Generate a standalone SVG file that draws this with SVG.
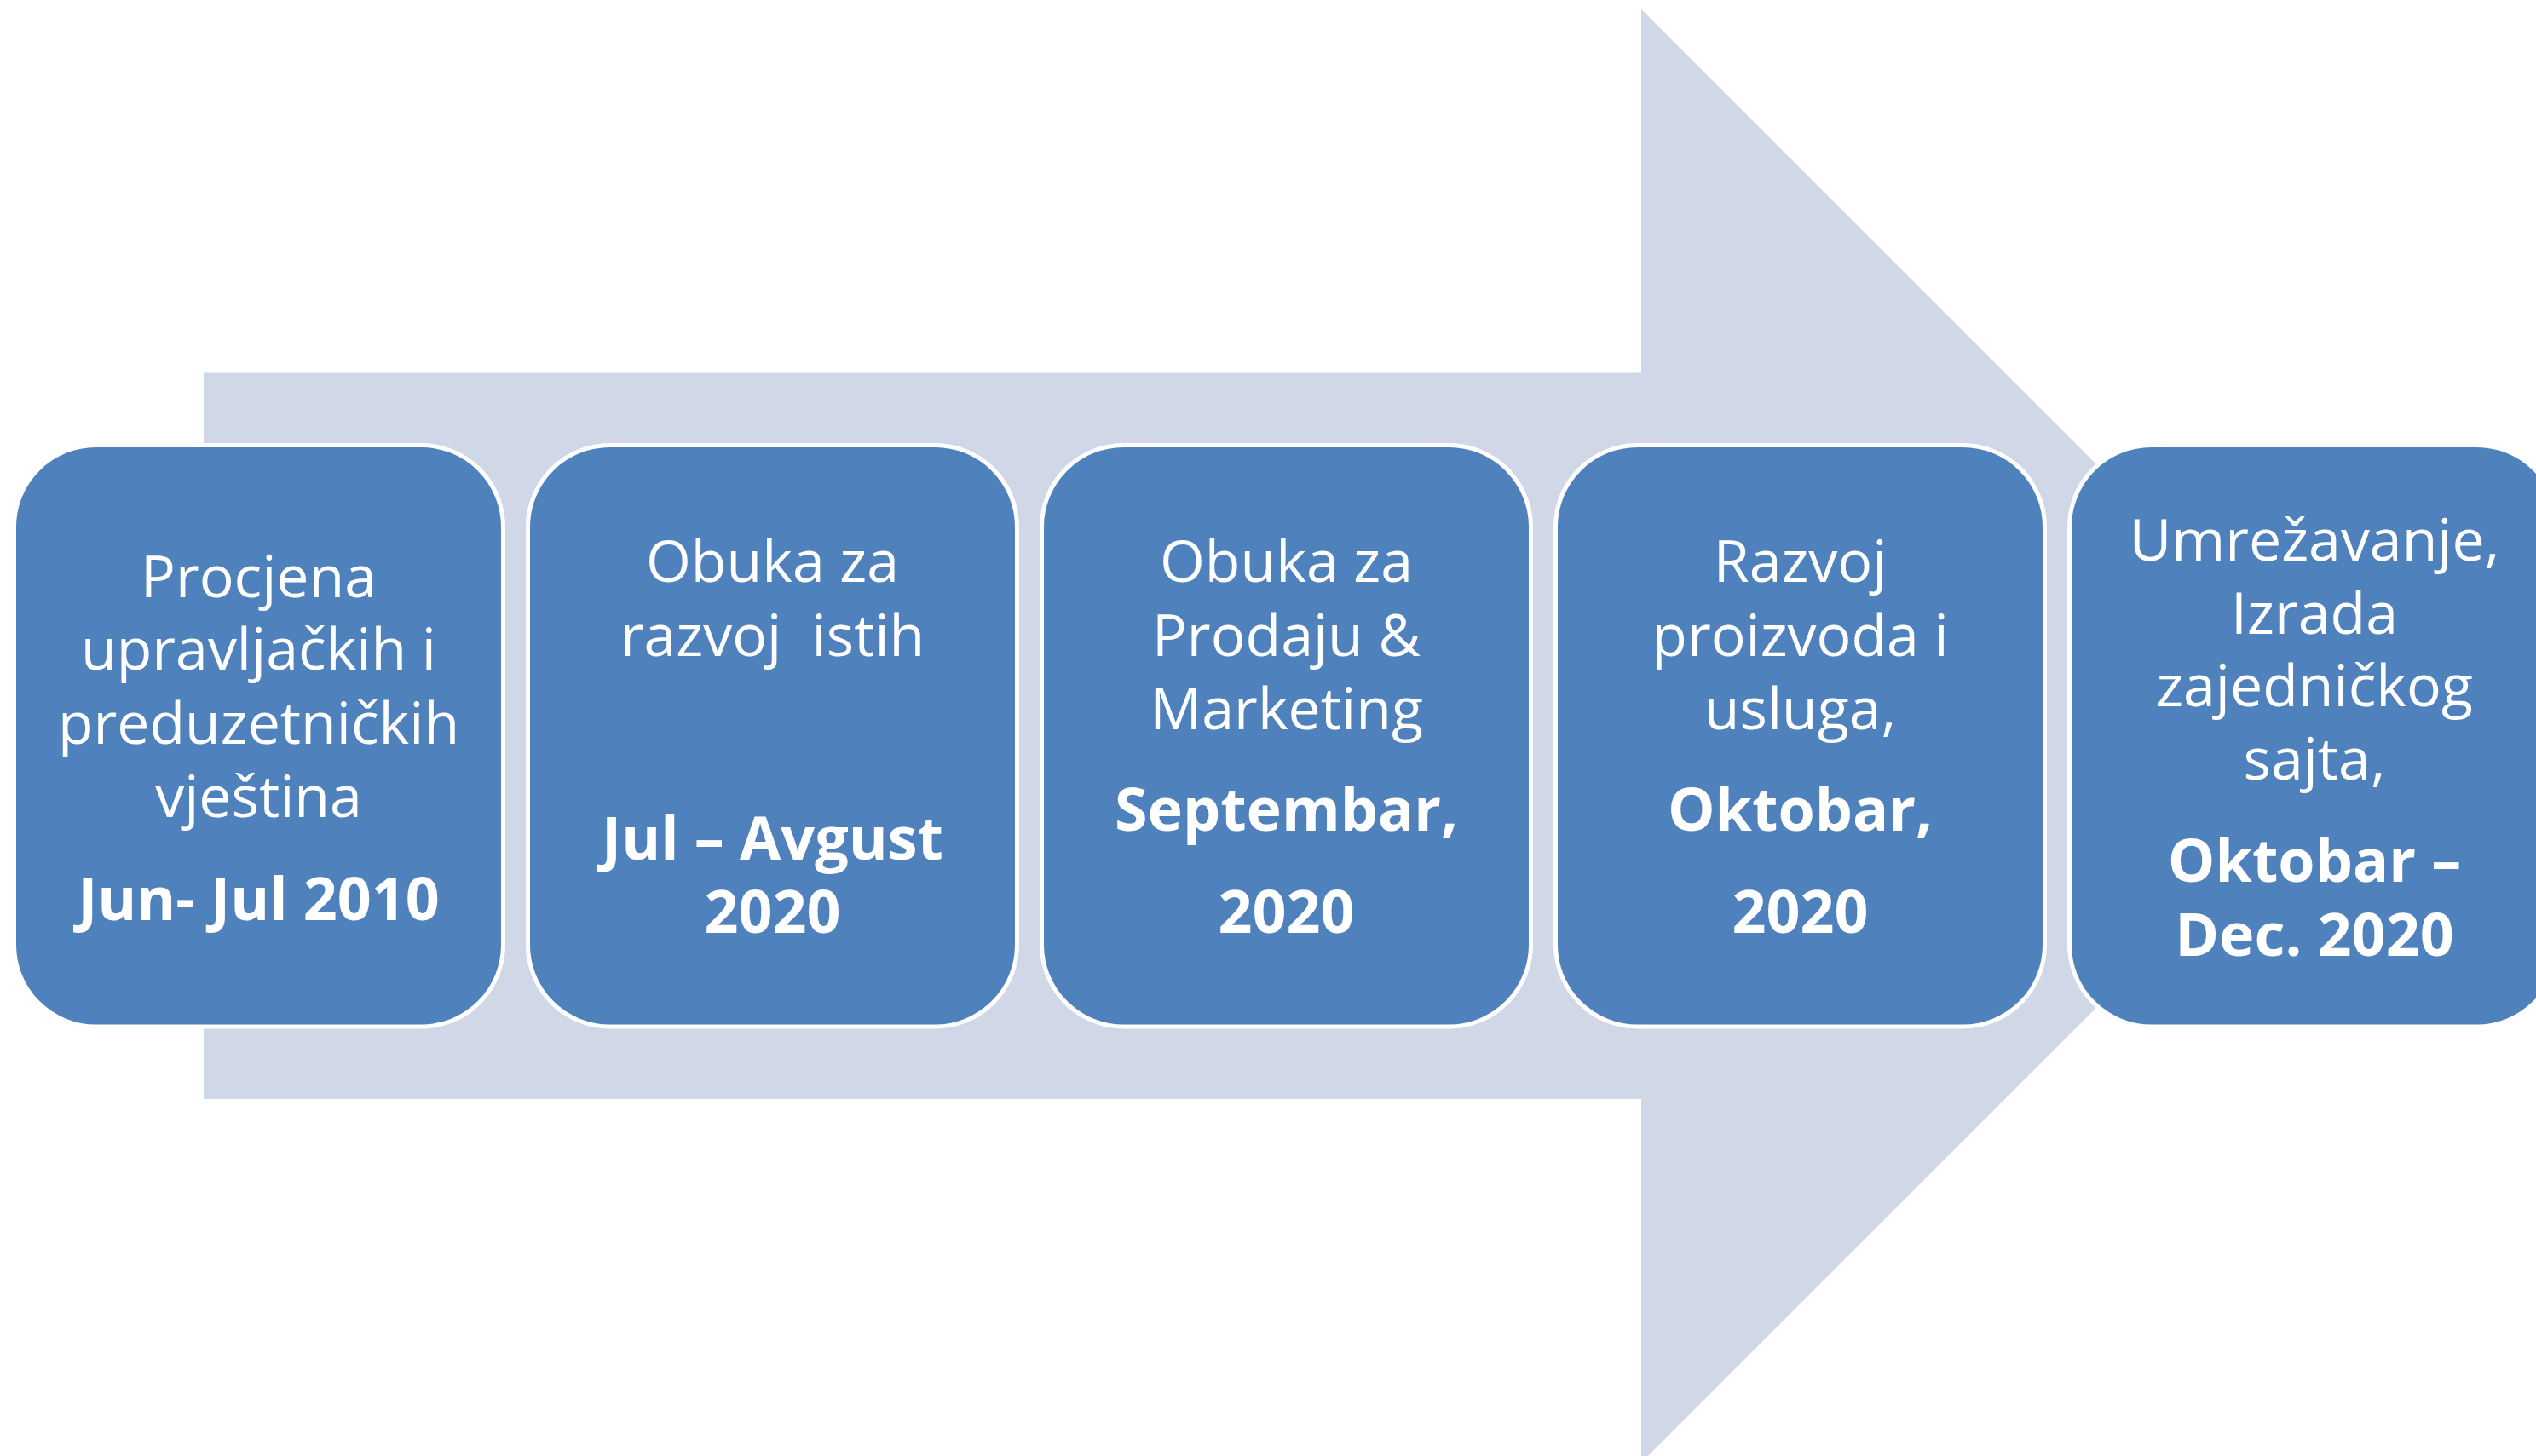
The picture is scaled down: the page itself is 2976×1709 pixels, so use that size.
<svg xmlns="http://www.w3.org/2000/svg" width="2976" height="1709" viewBox="0 0 2976 1709">
<style>
.box{fill:#4F81BD;stroke:#FFFFFF;stroke-width:5}
.t{font-family:"Open Sans","Noto Sans","Liberation Sans",sans-serif;font-size:68px;fill:#FFFFFF;text-anchor:middle}
.b{font-family:"Open Sans","Noto Sans","Liberation Sans",sans-serif;font-size:70px;font-weight:bold;fill:#FFFFFF;text-anchor:middle}
</style>
<rect width="2976" height="1709" fill="#FFFFFF"/>
<g id="arrow">
<polygon points="239,437.5 1926,437.5 1926,10.7 2779,863.75 1926,1716.8 1926,1290 239,1290" fill="#D0D8E8"/>
</g>
<g id="connectors"></g>
<g id="node1">
<rect class="box" x="16.5" y="522.5" width="574" height="682.5" rx="96" ry="96"/>
<text class="t" x="303.5" y="700.5">Procjena</text>
<text class="t" x="303.5" y="786">upravljačkih i</text>
<text class="t" x="303.5" y="873">preduzetničkih</text>
<text class="t" x="303.5" y="959">vještina</text>
<text class="b" x="303.5" y="1080">Jun- Jul 2010</text>
</g>
<g id="node2">
<rect class="box" x="619.5" y="522.5" width="574" height="682.5" rx="96" ry="96"/>
<text class="t" x="906.5" y="682.7">Obuka za</text>
<text class="t" x="906.5" y="769.5" xml:space="preserve">razvoj  istih</text>
<text class="b" x="906.5" y="1008.7">Jul – Avgust</text>
<text class="b" x="906.5" y="1094.6">2020</text>
</g>
<g id="node3">
<rect class="box" x="1222.5" y="522.5" width="574" height="682.5" rx="96" ry="96"/>
<text class="t" x="1509.5" y="682.7">Obuka za</text>
<text class="t" x="1509.5" y="769.5">Prodaju &amp;</text>
<text class="t" x="1509.5" y="855.8">Marketing</text>
<text class="b" x="1509.5" y="975.2">Septembar,</text>
<text class="b" x="1509.5" y="1094.6">2020</text>
</g>
<g id="node4">
<rect class="box" x="1825.5" y="522.5" width="574" height="682.5" rx="96" ry="96"/>
<text class="t" x="2112.5" y="682.7">Razvoj</text>
<text class="t" x="2112.5" y="769.5">proizvoda i</text>
<text class="t" x="2112.5" y="855.8">usluga,</text>
<text class="b" x="2112.5" y="975.2">Oktobar,</text>
<text class="b" x="2112.5" y="1094.6">2020</text>
</g>
<g id="node5">
<rect class="box" x="2428.5" y="522.5" width="574" height="682.5" rx="96" ry="96"/>
<text class="t" x="2716" y="657.9">Umrežavanje,</text>
<text class="t" x="2716" y="744.2">Izrada</text>
<text class="t" x="2716" y="829">zajedničkog</text>
<text class="t" x="2716" y="914.8">sajta,</text>
<text class="b" x="2716" y="1035">Oktobar –</text>
<text class="b" x="2716" y="1122.3">Dec. 2020</text>
</g>
</svg>
